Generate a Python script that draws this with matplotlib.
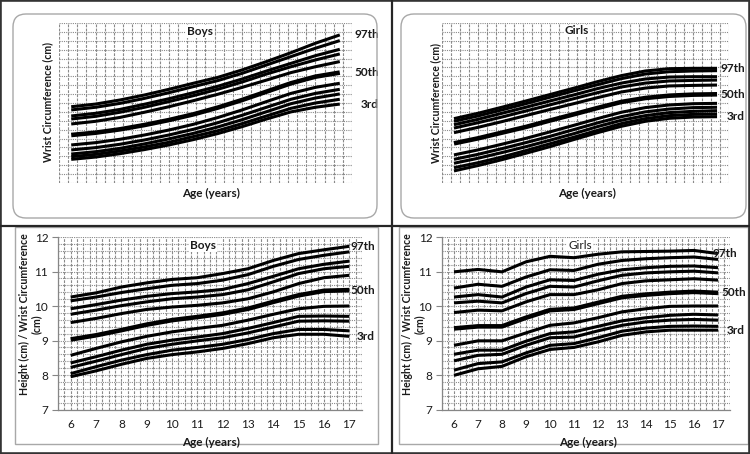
import numpy as np
import matplotlib
matplotlib.use('Agg')
import matplotlib.pyplot as plt
from matplotlib.patches import FancyBboxPatch, Rectangle
from matplotlib.lines import Line2D
import matplotlib.transforms as mtransforms

plt.rcParams['font.family'] = ['Lato', 'DejaVu Sans']

# ---------------- data ----------------
ages = [6, 7, 8, 9, 10, 11, 12, 13, 14, 15, 16, 17]
percentiles = [3, 5, 10, 15, 25, 50, 75, 85, 90, 95, 97]
labelled = {97: '97th', 50: '50th', 3: '3rd'}

# Boys wrist circumference (cm) - top left (axis values not printed in original)
boys_wrist = {
    97: [14.29, 14.44, 14.67, 14.95, 15.27, 15.61, 15.94, 16.36, 16.83, 17.33, 17.86, 18.33],
    95: [14.11, 14.26, 14.48, 14.76, 15.08, 15.42, 15.76, 16.17, 16.64, 17.11, 17.58, 18.01],
    90: [13.77, 13.92, 14.14, 14.43, 14.74, 15.08, 15.44, 15.85, 16.30, 16.73, 17.16, 17.52],
    85: [13.60, 13.75, 13.98, 14.26, 14.58, 14.91, 15.27, 15.68, 16.13, 16.54, 16.92, 17.26],
    75: [13.32, 13.47, 13.69, 13.98, 14.29, 14.63, 14.99, 15.38, 15.79, 16.21, 16.54, 16.83],
    50: [12.70, 12.83, 13.02, 13.26, 13.54, 13.86, 14.24, 14.67, 15.14, 15.61, 15.98, 16.21],
    25: [12.14, 12.27, 12.46, 12.70, 12.98, 13.30, 13.68, 14.11, 14.58, 15.04, 15.38, 15.61],
    15: [11.86, 11.99, 12.18, 12.42, 12.70, 13.02, 13.39, 13.81, 14.26, 14.71, 15.04, 15.27],
    10: [11.63, 11.76, 11.95, 12.20, 12.48, 12.79, 13.15, 13.56, 14.01, 14.46, 14.78, 15.01],
    5:  [11.48, 11.61, 11.80, 12.03, 12.29, 12.61, 12.94, 13.34, 13.77, 14.20, 14.50, 14.71],
    3:  [11.33, 11.46, 11.65, 11.88, 12.14, 12.44, 12.78, 13.17, 13.60, 14.00, 14.26, 14.44],
}

# Girls wrist circumference (cm) - top right
girls_wrist = {
    97: [13.62, 13.92, 14.26, 14.61, 14.97, 15.33, 15.70, 16.04, 16.30, 16.43, 16.45, 16.45],
    95: [13.47, 13.77, 14.11, 14.46, 14.82, 15.18, 15.53, 15.87, 16.13, 16.26, 16.30, 16.32],
    90: [13.28, 13.58, 13.92, 14.26, 14.61, 14.95, 15.31, 15.62, 15.85, 15.96, 15.98, 15.98],
    85: [13.09, 13.39, 13.71, 14.05, 14.39, 14.74, 15.08, 15.40, 15.62, 15.74, 15.77, 15.79],
    75: [12.83, 13.13, 13.45, 13.79, 14.13, 14.46, 14.80, 15.12, 15.34, 15.46, 15.49, 15.51],
    50: [12.23, 12.51, 12.83, 13.15, 13.51, 13.86, 14.22, 14.56, 14.78, 14.91, 14.97, 14.99],
    25: [11.58, 11.86, 12.18, 12.51, 12.87, 13.24, 13.62, 13.98, 14.24, 14.39, 14.46, 14.48],
    15: [11.33, 11.61, 11.93, 12.27, 12.62, 13.00, 13.38, 13.73, 14.00, 14.16, 14.24, 14.26],
    10: [11.11, 11.39, 11.71, 12.04, 12.40, 12.77, 13.17, 13.53, 13.79, 13.96, 14.03, 14.07],
    5:  [10.86, 11.14, 11.46, 11.82, 12.20, 12.57, 12.96, 13.34, 13.62, 13.79, 13.86, 13.88],
    3:  [10.68, 10.98, 11.31, 11.67, 12.04, 12.44, 12.83, 13.19, 13.47, 13.64, 13.71, 13.73],
}

# Boys height / wrist circumference - bottom left
boys_ratio = {
    97: [10.26, 10.38, 10.55, 10.67, 10.77, 10.82, 10.94, 11.08, 11.32, 11.52, 11.63, 11.73],
    95: [10.15, 10.26, 10.39, 10.50, 10.60, 10.65, 10.75, 10.91, 11.15, 11.35, 11.47, 11.57],
    90: [9.92, 10.04, 10.17, 10.28, 10.36, 10.41, 10.48, 10.65, 10.86, 11.08, 11.21, 11.30],
    85: [9.76, 9.88, 10.01, 10.12, 10.21, 10.26, 10.33, 10.47, 10.70, 10.94, 11.08, 11.15],
    75: [9.52, 9.64, 9.78, 9.90, 9.97, 10.02, 10.09, 10.21, 10.41, 10.65, 10.82, 10.89],
    50: [9.03, 9.15, 9.30, 9.46, 9.59, 9.68, 9.78, 9.92, 10.12, 10.31, 10.44, 10.46],
    25: [8.57, 8.77, 8.96, 9.12, 9.25, 9.35, 9.44, 9.59, 9.76, 9.92, 9.99, 10.00],
    15: [8.35, 8.53, 8.72, 8.89, 9.01, 9.10, 9.20, 9.35, 9.52, 9.70, 9.71, 9.70],
    10: [8.22, 8.40, 8.59, 8.77, 8.89, 8.99, 9.08, 9.22, 9.39, 9.56, 9.57, 9.56],
    5:  [8.04, 8.24, 8.43, 8.59, 8.72, 8.80, 8.89, 9.03, 9.20, 9.32, 9.32, 9.28],
    3:  [7.95, 8.12, 8.31, 8.48, 8.59, 8.67, 8.77, 8.91, 9.08, 9.18, 9.18, 9.12],
}

# Girls height / wrist circumference - bottom right
girls_ratio = {
    97: [10.99, 11.06, 10.99, 11.28, 11.44, 11.40, 11.50, 11.57, 11.58, 11.59, 11.61, 11.52],
    95: [10.52, 10.63, 10.57, 10.84, 11.05, 11.03, 11.21, 11.32, 11.37, 11.40, 11.42, 11.35],
    90: [10.26, 10.33, 10.26, 10.55, 10.76, 10.74, 10.92, 11.05, 11.11, 11.15, 11.16, 11.11],
    85: [10.09, 10.14, 10.09, 10.36, 10.57, 10.55, 10.73, 10.89, 10.96, 10.99, 11.01, 10.96],
    75: [9.81, 9.88, 9.86, 10.12, 10.33, 10.33, 10.47, 10.65, 10.73, 10.76, 10.79, 10.75],
    50: [9.35, 9.41, 9.41, 9.66, 9.88, 9.92, 10.09, 10.26, 10.33, 10.38, 10.41, 10.38],
    25: [8.86, 8.99, 8.99, 9.22, 9.44, 9.51, 9.66, 9.83, 9.92, 9.99, 10.00, 10.00],
    15: [8.60, 8.72, 8.72, 8.98, 9.20, 9.25, 9.41, 9.57, 9.66, 9.73, 9.76, 9.74],
    10: [8.41, 8.57, 8.60, 8.86, 9.08, 9.10, 9.28, 9.44, 9.54, 9.59, 9.61, 9.59],
    5:  [8.14, 8.33, 8.38, 8.64, 8.86, 8.91, 9.08, 9.27, 9.36, 9.41, 9.42, 9.41],
    3:  [7.99, 8.18, 8.25, 8.53, 8.74, 8.80, 8.96, 9.15, 9.25, 9.30, 9.30, 9.30],
}

# ---------------- figure ----------------
W, H = 750, 454
fig = plt.figure(figsize=(7.5, 4.54), dpi=100)
GRID = '#8a8a8a'
TXT = '#1a1a1a'


def px_axes(x0, y0, x1, y1):
    return fig.add_axes([x0 / W, 1 - y1 / H, (x1 - x0) / W, (y1 - y0) / H])


def ftext(x, y, s, **kw):
    return fig.text(x / W, 1 - y / H, s, **kw)


def box(x0, y0, x1, y1, rounded):
    style = 'round,pad=0,rounding_size=0.13' if rounded else 'square,pad=0'
    p = FancyBboxPatch((x0 / 100, (H - y1) / 100), (x1 - x0) / 100, (y1 - y0) / 100,
                       boxstyle=style, transform=fig.dpi_scale_trans,
                       fill=False, edgecolor='#a8a8a8', lw=1.0)
    fig.add_artist(p)


# panel boxes
box(13, 14, 377, 218, True)
box(401, 14, 746, 218, True)
box(15, 227, 378, 444, False)
box(399, 227, 748, 444, False)

# dividers and outer frame
fig.add_artist(Line2D([391.5 / W, 391.5 / W], [0, 1], transform=fig.transFigure,
                      color='#262626', lw=1.6))
fig.add_artist(Line2D([0, 1], [1 - 226 / H, 1 - 226 / H], transform=fig.transFigure,
                      color='#262626', lw=1.6))
fig.add_artist(Rectangle((0, 0), 1, 1, transform=fig.transFigure, fill=False,
                         edgecolor='#333333', lw=2.6))


def setup(ax, top):
    ax.set_xlim(5.5, 17.5)
    ax.set_facecolor('white')
    if top:
        ax.set_ylim(10, 19)
        ax.set_xticks(np.linspace(5.5, 17.5, 33))
        ax.set_yticks(np.arange(10, 19.01, 0.5))
        ax.tick_params(length=0, labelbottom=False, labelleft=False)
        for s in ax.spines.values():
            s.set_visible(False)
        ax.grid(axis='x', color=GRID, lw=0.8, ls=(0, (2.5, 1.2)))
        ax.grid(axis='y', color=GRID, lw=0.8, ls=(0, (1, 1)))
    else:
        ax.set_ylim(7, 12)
        ax.set_xticks(ages)
        ax.set_xticks(np.arange(5.5, 17.51, 0.25), minor=True)
        ax.set_yticks(range(7, 13))
        ax.set_yticks(np.arange(7, 12.01, 0.2), minor=True)
        ax.tick_params(axis='x', which='both', length=0, labelsize=8.5,
                       labelcolor=TXT, pad=7)
        ax.tick_params(axis='y', which='major', length=4, direction='out',
                       color='#868686', labelsize=8.5, labelcolor=TXT, pad=3)
        ax.tick_params(axis='y', which='minor', length=0)
        for k in ('top', 'right'):
            ax.spines[k].set_visible(False)
        for k in ('left', 'bottom'):
            ax.spines[k].set_color('#868686')
            ax.spines[k].set_linewidth(0.9)
        ax.grid(axis='x', which='both', color=GRID, lw=0.8, ls=(0, (2.5, 1.2)))
        ax.grid(axis='y', which='both', color=GRID, lw=0.8, ls=(0, (1, 1)))
    ax.set_axisbelow(True)


def draw(ax, data, label_right_px):
    for p in percentiles:
        vals = data[p]
        ax.plot(ages, vals, color='black', lw=3.3 if p == 50 else 2.2,
                solid_joinstyle='round', solid_capstyle='butt', zorder=3)
    trans = mtransforms.blended_transform_factory(fig.transFigure, ax.transData)
    for p, s in labelled.items():
        ax.text(label_right_px[p] / W, data[p][-1], s, transform=trans,
                ha='right', va='center', fontsize=8.5, fontweight='bold',
                color=TXT, zorder=6)


panels = [
    # (axes px, top?, data, title, title pos, title weight, label right px)
    ((59, 23, 352, 183), True, boys_wrist, 'Boys', (0.481, 0.945), 'bold',
     {97: 379, 50: 379, 3: 379}),
    ((442, 23, 729, 183), True, girls_wrist, 'Girls', (0.469, 0.95), 'bold',
     {97: 745, 50: 745, 3: 745}),
    ((58, 237, 362, 409.5), False, boys_ratio, 'Boys', (0.477, 0.952), 'bold',
     {97: 375, 50: 375, 3: 375}),
    ((442, 237, 730, 409.5), False, girls_ratio, 'Girls', (0.479, 0.953), 'normal',
     {97: 737, 50: 746, 3: 745}),
]

for rect, top, data, title, tpos, tw, lab in panels:
    ax = px_axes(*rect)
    setup(ax, top)
    draw(ax, data, lab)
    ax.text(tpos[0], tpos[1], title, transform=ax.transAxes, ha='center',
            va='center', fontsize=8.5, fontweight=tw, color=TXT, zorder=7,
            bbox=dict(fc='white', ec='none', pad=0.6))

# axis labels
lab_kw = dict(fontsize=8.5, fontweight='bold', color=TXT, ha='center', va='center')
ylab_kw = dict(lab_kw, fontsize=7.6)
ftext(48, 102, 'Wrist Circumference (cm)', rotation=90, **ylab_kw)
ftext(211, 193, 'Age (years)', **lab_kw)
ftext(436, 103, 'Wrist Circumference (cm)', rotation=90, **ylab_kw)
ftext(587, 193, 'Age (years)', **lab_kw)
ftext(24, 314, 'Height (cm) / Wrist Circumference', rotation=90, **ylab_kw)
ftext(36, 324, '(cm)', rotation=90, **ylab_kw)
ftext(211, 442, 'Age (years)', **lab_kw)
ftext(407, 314, 'Height (cm) / Wrist Circumference', rotation=90, **ylab_kw)
ftext(419, 324, '(cm)', rotation=90, **ylab_kw)
ftext(588, 442, 'Age (years)', **lab_kw)

fig.savefig('out.png', dpi=100)
